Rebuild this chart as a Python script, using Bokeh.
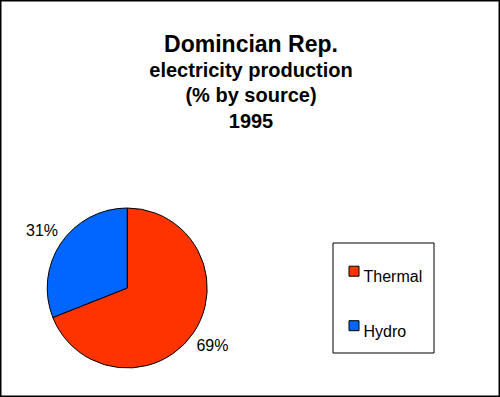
import numpy as np
from bokeh.plotting import figure
from bokeh.models import Range1d, ColumnDataSource
from bokeh.embed import file_html
from bokeh.resources import INLINE
from bokeh.core.properties import value

# ---- data ----
sources = ["Thermal", "Hydro"]
shares = [69, 31]
colors = ["#FF3300", "#0066FF"]
title_lines = ["Domincian Rep.", "electricity production", "(% by source)", "1995"]

# ---- layout (coordinates are picture pixels; y measured upward from 397) ----
W, H = 500, 397
p = figure(width=W, height=H, output_backend="svg", toolbar_location=None,
           x_range=Range1d(0, W), y_range=Range1d(0, H),
           x_axis_location=None, y_axis_location=None, min_border=0)
p.grid.visible = False
p.background_fill_color = "white"
p.border_fill_color = "white"
p.outline_line_color = "black"
p.outline_line_width = 2

def Y(s):
    return 397 - s

# ---- pie ----
cx, cy, r = 126.7, Y(287.5), 80
frac = np.array(shares, dtype=float) / sum(shares)
ends = np.cumsum(frac)
starts = ends - frac
start_ang = np.pi / 2 - 2 * np.pi * starts
end_ang = np.pi / 2 - 2 * np.pi * ends
pie = ColumnDataSource(dict(start=start_ang, end=end_ang, color=colors))
p.wedge(x=cx, y=cy, radius=r, start_angle="start", end_angle="end",
        direction="clock", fill_color="color", line_color="black",
        line_width=1, source=pie)

mid = (start_ang + end_ang) / 2
lr = 103
lab = ColumnDataSource(dict(x=cx + lr * np.cos(mid), y=cy + lr * np.sin(mid),
                            t=[f"{s}%" for s in shares]))
p.text(x="x", y="y", text="t", source=lab, text_align="center",
       text_baseline="middle", text_font=value("Liberation Sans"),
       text_font_size="16px", text_color="black")

# ---- title ----
tsrc = ColumnDataSource(dict(x=[250.5] * 4, y=[Y(43), Y(69), Y(94), Y(120)],
                             t=title_lines,
                             s=["23px", "20px", "20px", "20px"]))
p.text(x="x", y="y", text="t", source=tsrc, text_align="center",
       text_baseline="alphabetic", text_font=value("Liberation Sans"),
       text_font_size="s", text_font_style="bold", text_color="black")

# ---- legend ----
p.quad(left=332.5, right=433.5, top=Y(242.5), bottom=Y(352.5),
       fill_color="white", line_color="black", line_width=1)
row_y = np.array([Y(270.7) - i * 54.5 for i in range(len(sources))])
lsrc = ColumnDataSource(dict(x=[353.5] * len(sources), y=row_y,
                             color=colors, t=sources,
                             tx=[363] * len(sources), ty=row_y - 5.5))
p.rect(x="x", y="y", width=10, height=10, fill_color="color",
       line_color="black", line_width=1, source=lsrc)
p.text(x="tx", y="ty", text="t", source=lsrc, text_align="left",
       text_baseline="alphabetic", text_font=value("Liberation Sans"),
       text_font_size="16px", text_color="black")

open("out.html", "w").write(file_html(p, INLINE))
